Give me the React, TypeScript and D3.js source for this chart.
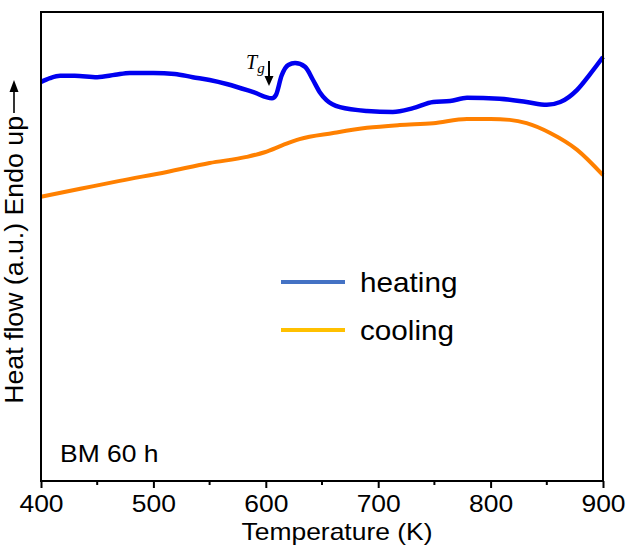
import React, { useEffect, useRef } from "react";
import * as d3 from "d3";

// heating curve (blue), temperature in K, heat flow in a.u.
const heatT = [400, 408, 417, 430, 450, 466, 479, 500, 519, 535, 550, 566, 589, 605.5, 609, 614, 620, 626, 635, 642, 648, 654, 666, 690, 713, 731, 749, 764, 779, 808, 832, 850, 862, 877, 888, 900];
const heatV = [85.1, 85.9, 86.4, 86.4, 86.1, 86.6, 87.0, 87.0, 86.8, 86.1, 85.5, 84.6, 82.9, 81.6, 82.3, 86.4, 88.7, 89.1, 88.3, 85.5, 82.9, 81.2, 79.7, 78.9, 78.7, 79.5, 80.8, 81.0, 81.7, 81.5, 80.8, 80.2, 80.8, 83.4, 86.6, 90.4];

// cooling curve (orange)
const coolT = [400, 435, 470, 512, 550, 583, 599, 615, 630, 660, 690, 719, 749, 779, 800, 817, 832, 853, 877, 900];
const coolV = [60.6, 62.3, 64.0, 65.9, 67.8, 69.1, 70.1, 71.6, 72.9, 74.2, 75.3, 75.9, 76.3, 77.2, 77.2, 77.0, 76.3, 74.2, 70.6, 65.2];

const xTicks = [400, 500, 600, 700, 800, 900];
const xMinor = [450, 550, 650, 750, 850];
const legendNames = ["heating", "cooling"];
const legendColors = ["#4472c4", "#ffc000"];

const W = 628;
const H = 549;
const left = 41, right = 603, top = 12, bottom = 481;
const font = "Arial, 'Liberation Sans', sans-serif";
const stretch = "scale(1.15,1)";

export default function App() {
  const ref = useRef<SVGSVGElement>(null);

  useEffect(() => {
    const svg = d3.select(ref.current);
    svg.selectAll("*").remove();

    const x = d3.scaleLinear().domain([400, 900]).range([left, right]);
    const y = d3.scaleLinear().domain([0, 100]).range([bottom, top]);

    const line = d3.line<[number, number]>()
      .x(d => x(d[0]))
      .y(d => y(d[1]))
      .curve(d3.curveMonotoneX);

    const heat = heatT.map((t, i) => [t, heatV[i]] as [number, number]);
    const cool = coolT.map((t, i) => [t, coolV[i]] as [number, number]);

    svg.append("path").attr("d", line(cool)).attr("fill", "none")
      .attr("stroke", "#ff8000").attr("stroke-width", 4).attr("stroke-linejoin", "round");
    svg.append("path").attr("d", line(heat)).attr("fill", "none")
      .attr("stroke", "#0000f0").attr("stroke-width", 4.5).attr("stroke-linejoin", "round");

    // frame
    svg.append("rect").attr("x", left).attr("y", top)
      .attr("width", right - left).attr("height", bottom - top)
      .attr("fill", "none").attr("stroke", "#000").attr("stroke-width", 2);

    // x axis
    const gx = svg.append("g").attr("transform", `translate(0,${bottom})`);
    gx.call(d3.axisBottom(x).tickValues(xTicks).tickSize(7).tickFormat(d3.format("d")));
    gx.select(".domain").remove();
    gx.selectAll(".tick line").attr("stroke-width", 2);
    gx.selectAll(".tick text")
      .attr("font-family", font).attr("font-size", 23).attr("fill", "#000")
      .attr("y", 31).attr("dy", 0).attr("transform", stretch);
    gx.selectAll(".minor").data(xMinor).join("line").attr("class", "minor")
      .attr("x1", d => x(d)).attr("x2", d => x(d)).attr("y1", 0).attr("y2", 4)
      .attr("stroke", "#000").attr("stroke-width", 2);

    svg.append("text").attr("transform", `translate(337,540) ${stretch}`)
      .attr("text-anchor", "middle").attr("font-family", font).attr("font-size", 23)
      .text("Temperature (K)");

    // y label with arrow
    svg.append("text").attr("transform", "translate(23,116) rotate(-90)")
      .attr("text-anchor", "end").attr("font-family", font).attr("font-size", 26.7)
      .text("Heat flow (a.u.) Endo up");
    svg.append("line").attr("x1", 14).attr("x2", 14).attr("y1", 113).attr("y2", 90)
      .attr("stroke", "#000").attr("stroke-width", 1.6);
    svg.append("path").attr("d", "M14,80 L9.5,92 L18.5,92 Z").attr("fill", "#000");

    // Tg annotation
    const tg = svg.append("text").attr("x", 246).attr("y", 69)
      .attr("font-family", "'Liberation Serif', 'Times New Roman', serif")
      .attr("font-style", "italic").attr("font-size", 20);
    tg.append("tspan").text("T");
    tg.append("tspan").attr("font-size", 15).attr("dy", 4).text("g");
    svg.append("line").attr("x1", 269).attr("x2", 269).attr("y1", 61).attr("y2", 80)
      .attr("stroke", "#000").attr("stroke-width", 2);
    svg.append("path").attr("d", "M269,86 L264.5,76 L273.5,76 Z").attr("fill", "#000");

    // legend
    const legY = [282, 330];
    legendNames.forEach((name, i) => {
      svg.append("line").attr("x1", 281).attr("x2", 345).attr("y1", legY[i]).attr("y2", legY[i])
        .attr("stroke", legendColors[i]).attr("stroke-width", 4);
      svg.append("text").attr("transform", `translate(360,${legY[i] + 10}) scale(1.1,1)`)
        .attr("font-family", font).attr("font-size", 27).text(name);
    });

    svg.append("text").attr("transform", `translate(60,462) ${stretch}`)
      .attr("font-family", font).attr("font-size", 23).text("BM 60 h");
  }, []);

  return (
    <svg ref={ref} width={W} height={H}
      style={{ position: "absolute", left: 0, top: 0, background: "#fff" }} />
  );
}
